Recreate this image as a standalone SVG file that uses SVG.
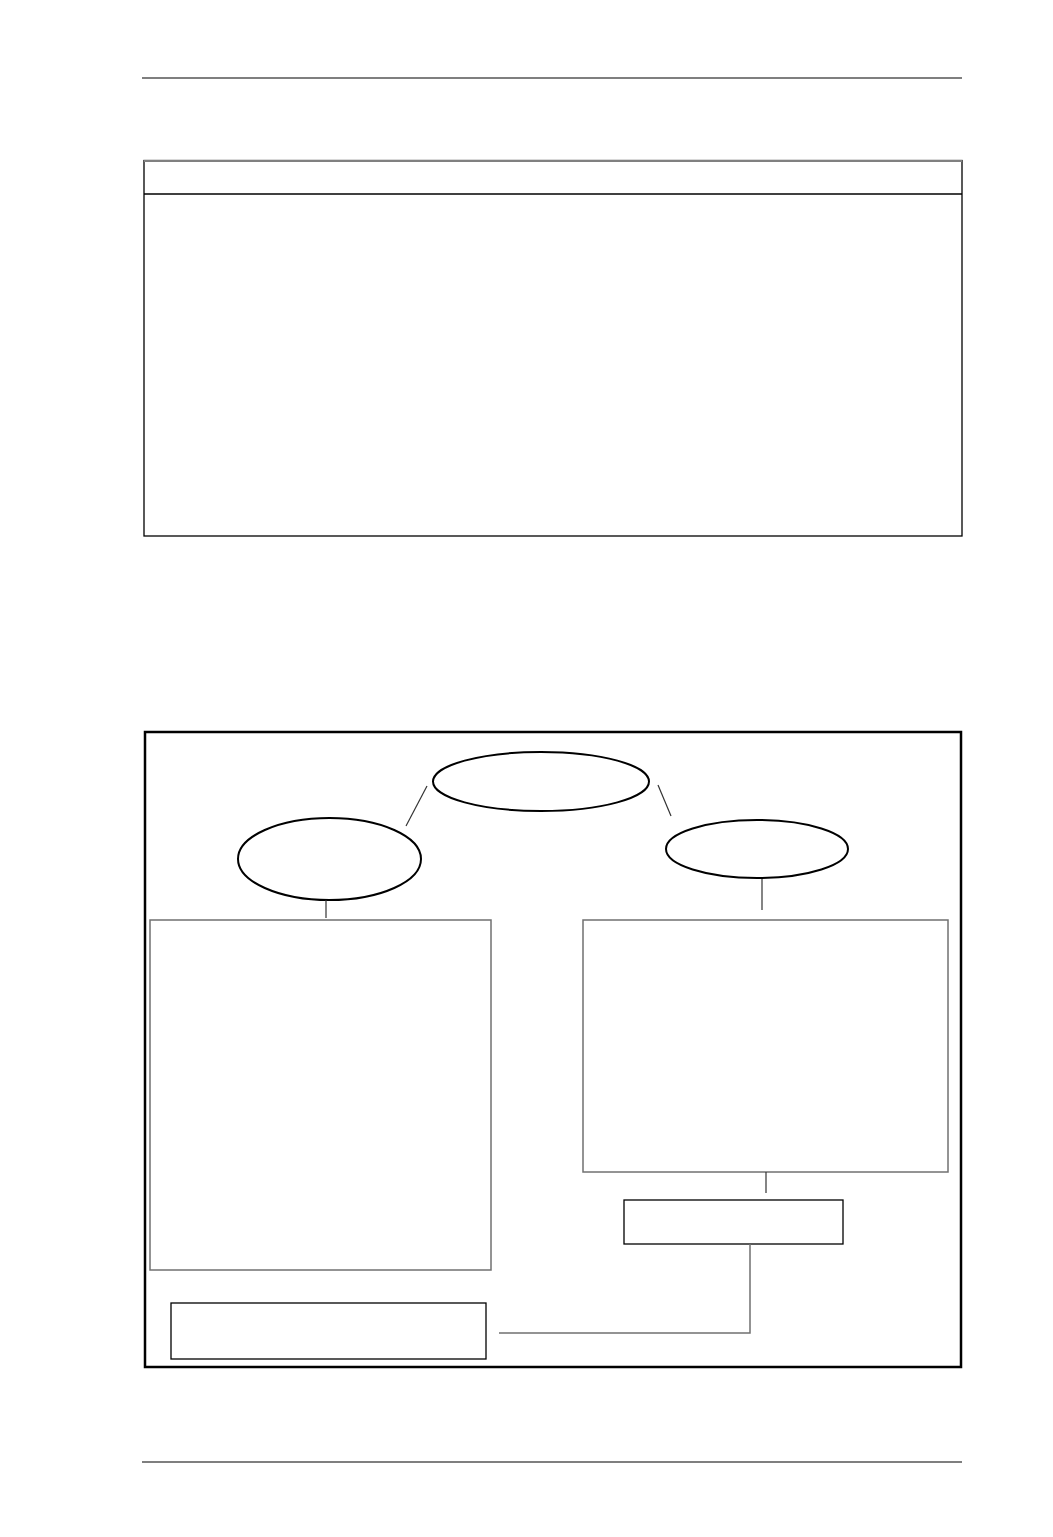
<svg xmlns="http://www.w3.org/2000/svg" width="1053" height="1537" viewBox="0 0 1053 1537">
<style>
.rule{stroke:#555;stroke-width:1.5;fill:none}
.gbox{fill:none;stroke:#707070;stroke-width:1.5}
.kbox{fill:none;stroke:#000;stroke-width:1.3}
.ell{fill:none;stroke:#000;stroke-width:2}
.conn{fill:none;stroke:#333;stroke-width:1.2}
.gconn{fill:none;stroke:#707070;stroke-width:1.5}
</style>
<rect width="1053" height="1537" fill="#fff"/>
<line class="rule" x1="142" y1="78" x2="962" y2="78"/>
<line class="rule" x1="142" y1="1462" x2="962" y2="1462"/>
<g id="table">
<rect x="144" y="160.5" width="818" height="375.5" fill="none" stroke="#000" stroke-width="1.3"/>
<line x1="144" y1="161" x2="962" y2="161" stroke="#808080" stroke-width="2"/>
<line x1="144" y1="194" x2="962" y2="194" stroke="#000" stroke-width="1.3"/>
</g>
<g id="frame">
<rect x="145" y="732" width="816" height="635" fill="none" stroke="#000" stroke-width="2.5"/>
</g>
<g id="top-ellipse"><ellipse class="ell" cx="541" cy="781.5" rx="108" ry="29.5"/></g>
<g id="left-ellipse"><ellipse class="ell" cx="329.5" cy="859" rx="91.5" ry="41"/></g>
<g id="right-ellipse"><ellipse class="ell" cx="757" cy="849" rx="91" ry="29"/></g>
<g id="left-box"><rect class="gbox" x="150" y="920" width="341" height="350"/></g>
<g id="right-box"><rect class="gbox" x="583" y="920" width="365" height="252"/></g>
<g id="small-box"><rect class="kbox" x="624" y="1200" width="219" height="44"/></g>
<g id="bottom-left-box"><rect class="kbox" x="171" y="1303" width="315" height="56"/></g>
<g id="connectors">
<line class="conn" x1="427" y1="786" x2="406" y2="826"/>
<line class="conn" x1="658" y1="785" x2="671" y2="816"/>
<line class="conn" x1="326" y1="900" x2="326" y2="918"/>
<line class="conn" x1="762" y1="879" x2="762" y2="910"/>
<line class="conn" x1="766" y1="1172" x2="766" y2="1193"/>
<polyline class="gconn" points="750,1244 750,1333 499,1333"/>
</g>
</svg>
